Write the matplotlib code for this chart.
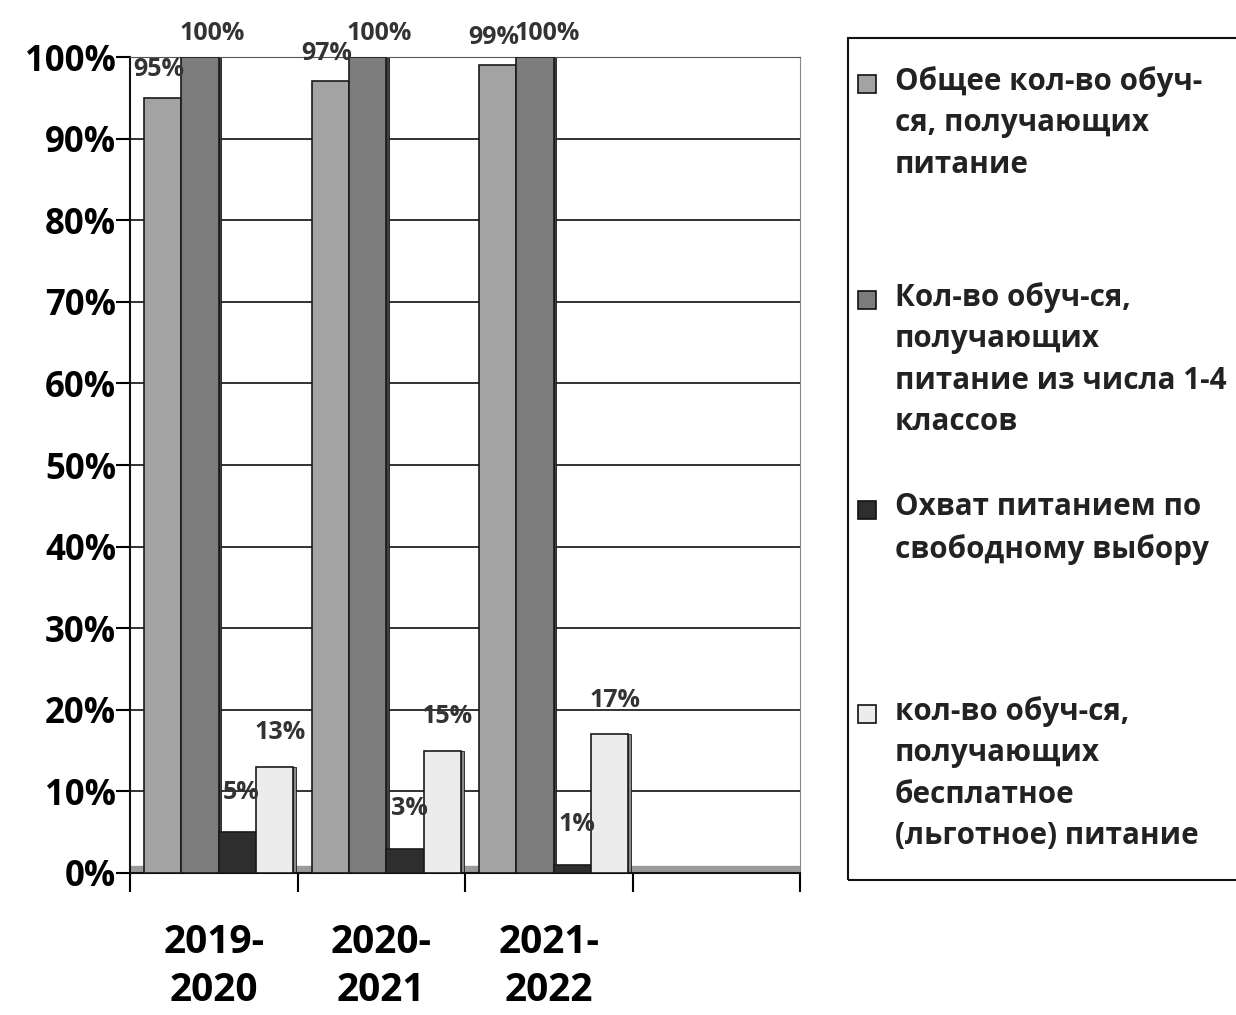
import numpy as np
import matplotlib
matplotlib.use("Agg")
import matplotlib.pyplot as plt
from matplotlib.patches import Rectangle

plt.rcParams['font.family'] = ['Open Sans', 'DejaVu Sans']

# data
categories = ["2019-\n2020", "2020-\n2021", "2021-\n2022", ""]
series_names = ["Общее кол-во обуч-\nся, получающих\nпитание",
                "Кол-во обуч-ся,\nполучающих\nпитание из числа 1-4\nклассов",
                "Охват питанием по\nсвободному выбору",
                "кол-во обуч-ся,\nполучающих\nбесплатное\n(льготное) питание"]
values = [[0.95, 0.97, 0.99],
          [1.00, 1.00, 1.00],
          [0.05, 0.03, 0.01],
          [0.13, 0.15, 0.17]]
labels = [["95%", "97%", "99%"],
          ["100%", "100%", "100%"],
          ["5%", "3%", "1%"],
          ["13%", "15%", "17%"]]

colors = ['#a3a3a3', '#7c7c7c', '#2e2e2e', '#ececec']
side_colors = ['#5a5a5a', '#3e3e3e', '#111111', '#8a8a8a']
lab_off = [(-4, 28), (12, 24), (4, 40), (5, 34)]

fig = plt.figure(figsize=(12.36, 10.15), dpi=100)
ax = fig.add_axes([130/1236, 1-873/1015, 670/1236, 816/1015])

w = 0.223
x = np.arange(3)
for k in range(4):
    xs = x + 0.03 + (k - 1.5) * w
    ax.bar(xs, values[k], width=w, color=colors[k], edgecolor='#1a1a1a',
           linewidth=1.2, zorder=3)
    # thin dark side face for the 3D look
    ax.bar(xs + w/2 + 0.008, values[k], width=0.016, color=side_colors[k],
           edgecolor='#1a1a1a', linewidth=0.6, zorder=2)
    for i in range(3):
        ax.annotate(labels[k][i], (xs[i], values[k][i]), xytext=lab_off[k],
                    textcoords='offset pixels', ha='center', va='center',
                    fontsize=18, fontweight='bold', color='#333333', zorder=5,
                    annotation_clip=False)

# floor
ax.axhline(0.004, color='#9a9a9a', linewidth=6, zorder=1)

ax.set_xlim(-0.5, 3.5)
ax.set_ylim(0, 1.0)
ax.set_yticks(np.arange(0, 1.01, 0.1))
ax.set_yticklabels([f"{int(round(v*100))}%" for v in np.arange(0, 1.01, 0.1)],
                   fontsize=25, fontweight='bold')
ax.yaxis.grid(True, color='#222222', linewidth=1.3, zorder=0)
ax.set_axisbelow(True)

ax.set_xticks(np.arange(4))
ax.set_xticklabels(categories, fontsize=28, fontweight='bold', linespacing=1.3)
ax.set_xticks(np.arange(-0.5, 3.6, 1), minor=True)
ax.tick_params(axis='x', which='major', length=0, pad=36)
ax.tick_params(axis='x', which='minor', length=14, width=1.5, direction='out')
ax.tick_params(axis='y', length=10, width=1.5, pad=0)

for s in ['left', 'bottom']:
    ax.spines[s].set_linewidth(1.5)
    ax.spines[s].set_color('#111111')
ax.spines['top'].set_color('#555555')
ax.spines['right'].set_color('#888888')
ax.spines['right'].set_linewidth(0.8)

# legend box
fig.patches.append(Rectangle((848/1236, 1-880/1015), 420/1236, 842/1015,
                             transform=fig.transFigure, fill=False,
                             edgecolor='#111111', linewidth=1.5))
leg_y = [84, 300, 510, 714]
for k in range(4):
    yf = 1 - leg_y[k]/1015
    fig.patches.append(Rectangle((858/1236, yf - 9/1015), 18/1236, 18/1015,
                                 transform=fig.transFigure, facecolor=colors[k],
                                 edgecolor='#111111', linewidth=1.2))
    fig.text(895/1236, yf + 18/1015, series_names[k], ha='left', va='top',
             fontsize=21.3, fontweight='bold', color='#222222', linespacing=1.5)

fig.savefig("out.png", dpi=100)
